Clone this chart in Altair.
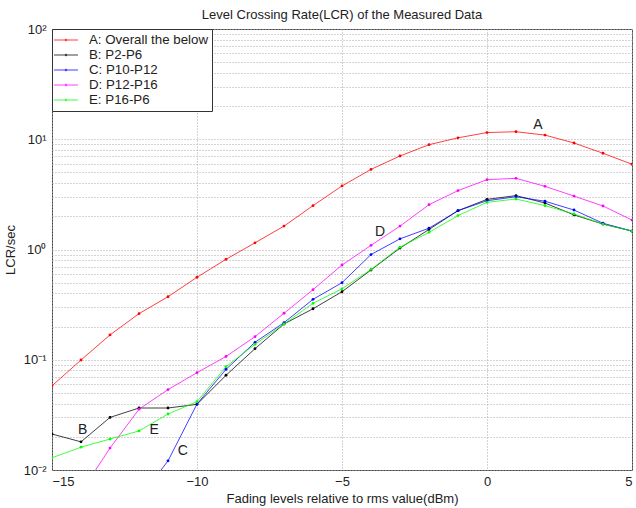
import altair as alt
import pandas as pd
import numpy as np

levels = list(range(-15, 6))

series_names = ["A: Overall the below", "B: P2-P6", "C: P10-P12", "D: P12-P16", "E: P16-P6"]
series_colors = ["#ff0000", "#000000", "#0000ff", "#ff00ff", "#00ff00"]

A = [0.058, 0.0995, 0.168, 0.262, 0.373, 0.56, 0.815, 1.15, 1.63, 2.5, 3.77,
     5.33, 7.05, 8.93, 10.3, 11.5, 11.7, 10.9, 9.25, 7.46, 5.93]
B = [0.0212, 0.0180, 0.030, 0.0365, 0.0365, 0.0394, 0.0723, 0.126, 0.211, 0.29, 0.414,
     0.652, 1.03, 1.52, 2.25, 2.85, 3.08, 2.64, 2.06, 1.70, 1.47]
C = [None, None, None, 0.0055, 0.0121, 0.0397, 0.0818, 0.144, 0.217, 0.353, 0.50,
     0.90, 1.25, 1.56, 2.25, 2.77, 3.01, 2.74, 2.28, 1.73, 1.47]
D = [None, 0.0063, 0.0158, 0.0356, 0.0536, 0.0764, 0.107, 0.162, 0.264, 0.432, 0.723,
     1.09, 1.63, 2.55, 3.42, 4.30, 4.42, 3.74, 3.05, 2.48, 1.85]
E = [0.0129, 0.0161, 0.0191, 0.0226, 0.0322, 0.0417, 0.0865, 0.138, 0.211, 0.325, 0.44,
     0.66, 1.05, 1.43, 2.03, 2.68, 2.87, 2.50, 2.10, 1.70, 1.47]

label_text = ["A", "B", "C", "D", "E"]
label_x = [1.76, -13.94, -10.49, -3.69, -11.48]
label_y = [13.5, 0.0231, 0.0150, 1.44, 0.0231]

rows = []
for name, vals in zip(series_names, [A, B, C, D, E]):
    for lv, v in zip(levels, vals):
        if v is not None:
            rows.append({"level": lv, "lcr": v, "series": name})
df = pd.DataFrame(rows)
labels_df = pd.DataFrame({"x": label_x, "y": label_y, "t": label_text})

y_ticks = []
for e in range(-2, 2):
    for m in range(1, 10):
        y_ticks.append(round(m * 10 ** e, 6))
y_ticks.append(100)

label_expr = ("datum.value == 100 ? '10\u00b2' : datum.value == 10 ? '10\u00b9' : "
              "datum.value == 1 ? '10\u2070' : datum.value == 0.1 ? '10\u207b\u00b9' : "
              "datum.value == 0.01 ? '10\u207b\u00b2' : ''")

FONT = "Liberation Sans"
TXT = "#222"

xscale = alt.Scale(domain=[-15, 5], nice=False)
yscale = alt.Scale(type="log", domain=[0.01, 100], nice=False)

legend_symbol = "M-2,0H2M-0.12,0A0.12,0.12 0 1 1 0.12,0A0.12,0.12 0 1 1 -0.12,0"

color = alt.Color("series:N", scale=alt.Scale(domain=series_names, range=series_colors),
                  legend=alt.Legend(title=None, orient="top-left", offset=0,
                                    symbolType=legend_symbol, symbolSize=144,
                                    symbolStrokeWidth=1.2, symbolOffset=3,
                                    labelFontSize=13.3, labelFont=FONT, labelColor=TXT,
                                    strokeColor="#333", fillColor="white",
                                    padding=4, rowPadding=1.0, labelOffset=16,
                                    cornerRadius=0))

axis_common = dict(grid=True, gridDash=[1, 2], gridColor="#a8a8a8", tickSize=0,
                   domain=False, labelFont=FONT, titleFont=FONT, labelFontSize=13,
                   titleFontSize=13, titleFontWeight="normal", labelColor=TXT,
                   titleColor=TXT)

base = alt.Chart(df).encode(
    x=alt.X("level:Q", scale=xscale,
            axis=alt.Axis(values=[-15, -10, -5, 0, 5],
                          title="Fading levels relative to rms value(dBm)",
                          labelPadding=5, titlePadding=4, **axis_common)),
    y=alt.Y("lcr:Q", scale=yscale,
            axis=alt.Axis(values=y_ticks, labelExpr=label_expr, title="LCR/sec",
                          labelPadding=6, titlePadding=6, **axis_common)),
    color=color,
)

lines = base.mark_line(strokeWidth=1, clip=True, opacity=0.75)
pts = base.mark_point(filled=True, size=8, clip=True, opacity=1).encode(
    color=alt.Color("series:N", scale=alt.Scale(domain=series_names, range=series_colors),
                    legend=None))

texts = alt.Chart(labels_df).mark_text(fontSize=14, font=FONT, color=TXT).encode(
    x=alt.X("x:Q", scale=xscale), y=alt.Y("y:Q", scale=yscale), text="t:N")

chart = alt.layer(lines, pts, texts).properties(
    width=580, height=441,
    title=alt.Title("Level Crossing Rate(LCR) of the Measured Data", fontSize=13,
                    fontWeight="normal", font=FONT, offset=1, color=TXT),
    autosize=alt.AutoSizeParams(type="none"),
    padding={"left": 52, "top": 29, "right": 4, "bottom": 38},
    background="white",
).configure_view(stroke="#444", strokeWidth=1)

chart.save("out.html", embed_options={"renderer": "svg", "actions": False})
